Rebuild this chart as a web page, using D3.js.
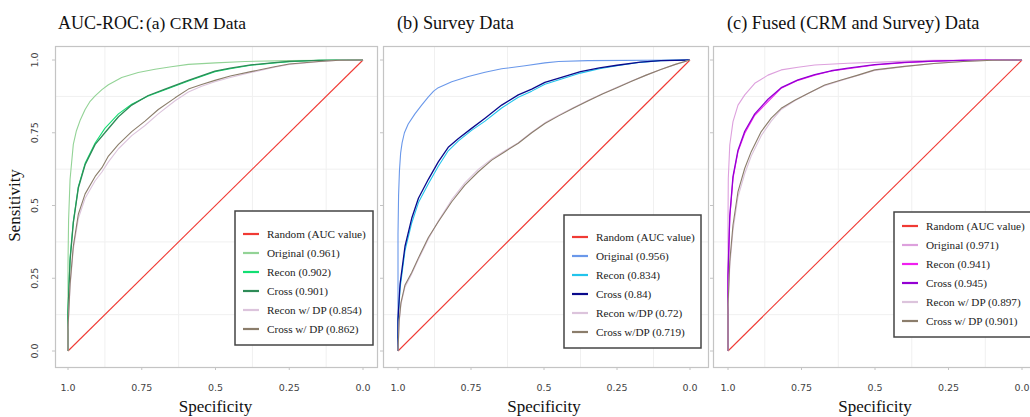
<!DOCTYPE html>
<html><head><meta charset="utf-8">
<script src="https://cdn.jsdelivr.net/npm/d3@7"></script>
<style>body{margin:0;background:#fff}</style>
</head><body>
<svg id="chart" width="1030" height="417"></svg>
<script>
// ROC curves as [specificity, sensitivity] pairs
const randomLine = [[1, 0], [0, 1]];

const crmOriginal = [[1,0],[1,0.30],[0.998,0.45],[0.993,0.59],[0.982,0.71],[0.972,0.755],[0.958,0.795],[0.942,0.83],[0.925,0.858],[0.908,0.877],[0.885,0.898],[0.863,0.915],[0.818,0.94],[0.762,0.957],[0.705,0.968],[0.65,0.977],[0.592,0.985],[0.50,0.99],[0.40,0.995],[0.25,0.998],[0,1]];
const crmRecon = [[1,0],[1,0.14],[0.993,0.32],[0.982,0.445],[0.965,0.565],[0.942,0.645],[0.908,0.715],[0.875,0.765],[0.829,0.815],[0.784,0.848],[0.728,0.876],[0.671,0.898],[0.592,0.928],[0.502,0.96],[0.45,0.97],[0.38,0.982],[0.30,0.99],[0.25,0.994],[0.15,0.999],[0,1]];
const crmCross = [[1,0],[1,0.13],[0.993,0.31],[0.982,0.44],[0.965,0.56],[0.942,0.64],[0.908,0.71],[0.875,0.75],[0.829,0.805],[0.784,0.845],[0.728,0.878],[0.671,0.90],[0.592,0.93],[0.502,0.962],[0.45,0.972],[0.38,0.983],[0.30,0.991],[0.25,0.995],[0.15,0.999],[0,1]];
const crmReconDP = [[1,0],[1,0.07],[0.993,0.22],[0.982,0.35],[0.965,0.455],[0.942,0.525],[0.908,0.585],[0.885,0.615],[0.863,0.65],[0.829,0.695],[0.784,0.74],[0.739,0.775],[0.694,0.815],[0.637,0.86],[0.592,0.89],[0.547,0.91],[0.502,0.925],[0.45,0.94],[0.38,0.957],[0.30,0.975],[0.25,0.985],[0.15,0.994],[0.08,0.999],[0,1]];
const crmCrossDP = [[1,0],[1,0.08],[0.993,0.23],[0.982,0.36],[0.965,0.47],[0.942,0.54],[0.908,0.60],[0.885,0.63],[0.863,0.67],[0.829,0.71],[0.784,0.754],[0.739,0.79],[0.694,0.83],[0.637,0.87],[0.592,0.90],[0.547,0.916],[0.502,0.93],[0.45,0.945],[0.38,0.96],[0.30,0.977],[0.25,0.986],[0.15,0.995],[0.08,0.999],[0,1]];

const surveyOriginal = [[1,0],[1,0.40],[0.998,0.535],[0.995,0.62],[0.991,0.68],[0.986,0.715],[0.978,0.75],[0.965,0.78],[0.942,0.815],[0.919,0.845],[0.896,0.873],[0.878,0.893],[0.862,0.905],[0.816,0.925],[0.759,0.943],[0.702,0.958],[0.645,0.97],[0.565,0.98],[0.497,0.99],[0.45,0.995],[0.35,0.998],[0,1]];
const surveyRecon = [[1,0],[1,0.10],[0.993,0.215],[0.976,0.345],[0.953,0.44],[0.930,0.51],[0.896,0.575],[0.862,0.635],[0.828,0.688],[0.793,0.722],[0.748,0.758],[0.702,0.79],[0.645,0.835],[0.588,0.872],[0.542,0.893],[0.497,0.917],[0.44,0.935],[0.375,0.955],[0.31,0.97],[0.25,0.98],[0.17,0.992],[0.1,0.998],[0,1]];
const surveyCross = [[1,0],[1,0.11],[0.993,0.23],[0.976,0.36],[0.953,0.456],[0.930,0.525],[0.896,0.59],[0.862,0.65],[0.828,0.70],[0.793,0.73],[0.748,0.765],[0.702,0.80],[0.645,0.845],[0.588,0.88],[0.542,0.90],[0.497,0.923],[0.44,0.94],[0.375,0.96],[0.31,0.973],[0.25,0.982],[0.17,0.993],[0.1,0.998],[0,1]];
const surveyReconDP = [[1,0],[0.996,0.10],[0.990,0.16],[0.976,0.22],[0.953,0.265],[0.930,0.315],[0.896,0.385],[0.862,0.447],[0.816,0.52],[0.771,0.578],[0.725,0.624],[0.679,0.66],[0.634,0.688],[0.588,0.716],[0.542,0.752],[0.497,0.784],[0.45,0.81],[0.40,0.836],[0.35,0.861],[0.30,0.884],[0.25,0.906],[0.20,0.928],[0.15,0.948],[0.10,0.967],[0.05,0.985],[0,1]];
const surveyCrossDP = [[1,0],[0.996,0.105],[0.990,0.165],[0.976,0.227],[0.953,0.27],[0.930,0.32],[0.896,0.39],[0.862,0.444],[0.816,0.513],[0.771,0.57],[0.725,0.616],[0.679,0.656],[0.634,0.685],[0.588,0.714],[0.542,0.75],[0.497,0.782],[0.45,0.808],[0.40,0.834],[0.35,0.859],[0.30,0.883],[0.25,0.905],[0.20,0.927],[0.15,0.948],[0.10,0.967],[0.05,0.985],[0,1]];

const fusedOriginal = [[1,0],[1,0.45],[0.999,0.593],[0.994,0.708],[0.983,0.788],[0.966,0.845],[0.943,0.88],[0.909,0.92],[0.864,0.948],[0.819,0.966],[0.762,0.975],[0.705,0.983],[0.592,0.989],[0.501,0.992],[0.4,0.996],[0.3,0.999],[0,1]];
const fusedRecon = [[1,0],[1,0.25],[0.994,0.456],[0.983,0.593],[0.966,0.685],[0.943,0.748],[0.909,0.81],[0.864,0.857],[0.819,0.903],[0.762,0.93],[0.705,0.948],[0.649,0.962],[0.592,0.97],[0.501,0.983],[0.4,0.991],[0.3,0.996],[0.2,0.999],[0,1]];
const fusedCross = [[1,0],[1,0.26],[0.994,0.465],[0.983,0.60],[0.966,0.69],[0.943,0.755],[0.909,0.815],[0.864,0.865],[0.819,0.905],[0.762,0.932],[0.705,0.95],[0.649,0.963],[0.592,0.972],[0.501,0.984],[0.4,0.992],[0.3,0.996],[0.2,0.999],[0,1]];
const fusedReconDP = [[1,0],[1,0.14],[0.994,0.29],[0.983,0.415],[0.966,0.53],[0.943,0.61],[0.921,0.67],[0.887,0.74],[0.853,0.79],[0.819,0.83],[0.773,0.86],[0.728,0.885],[0.671,0.912],[0.615,0.93],[0.558,0.947],[0.501,0.964],[0.4,0.977],[0.3,0.988],[0.2,0.995],[0.1,0.999],[0,1]];
const fusedCrossDP = [[1,0],[1,0.158],[0.994,0.307],[0.983,0.433],[0.966,0.548],[0.943,0.628],[0.921,0.685],[0.887,0.754],[0.853,0.80],[0.819,0.834],[0.773,0.862],[0.728,0.885],[0.671,0.914],[0.615,0.931],[0.558,0.948],[0.501,0.966],[0.4,0.978],[0.3,0.988],[0.2,0.995],[0.1,0.999],[0,1]];

// legend labels (AUC values)
const crmLabels = ["Random (AUC value)", "Original (0.961)", "Recon (0.902)", "Cross (0.901)", "Recon w/ DP (0.854)", "Cross w/ DP (0.862)"];
const surveyLabels = ["Random (AUC value)", "Original (0.956)", "Recon (0.834)", "Cross (0.84)", "Recon w/DP (0.72)", "Cross w/DP (0.719)"];
const fusedLabels = ["Random (AUC value)", "Original (0.971)", "Recon (0.941)", "Cross (0.945)", "Recon w/ DP (0.897)", "Cross w/ DP (0.901)"];

const crmColors = ["#f03a34", "#93d396", "#12df73", "#2e8b57", "#dcc4dc", "#8b7d6b"];
const surveyColors = ["#f03a34", "#6a98ea", "#22c4ec", "#0a0a8c", "#dcc4dc", "#8b7d6b"];
const fusedColors = ["#f03a34", "#dda0dd", "#f020f0", "#9400d3", "#dcc4dc", "#8b7d6b"];

const tickValues = [1.0, 0.75, 0.5, 0.25, 0.0];
const tickLabels = ["1.0", "0.75", "0.5", "0.25", "0.0"];
const gridValues = [0.125, 0.375, 0.625, 0.875];

const titles = ["(a) CRM Data", "(b) Survey Data", "(c) Fused (CRM and Survey) Data"];

const panels = [
  { title: titles[0], curves: [randomLine, crmOriginal, crmRecon, crmCross, crmReconDP, crmCrossDP], labels: crmLabels, colors: crmColors,
    px: [68, 363], frame: [55, 377], legend: { x: 235, y: 211, w: 138, h: 134 }, yLabels: true },
  { title: titles[1], curves: [randomLine, surveyOriginal, surveyRecon, surveyCross, surveyReconDP, surveyCrossDP], labels: surveyLabels, colors: surveyColors,
    px: [398, 690], frame: [383, 708], legend: { x: 564, y: 215, w: 137, h: 133 }, yLabels: false },
  { title: titles[2], curves: [randomLine, fusedOriginal, fusedRecon, fusedCross, fusedReconDP, fusedCrossDP], labels: fusedLabels, colors: fusedColors,
    px: [728, 1022], frame: [713, 1040], legend: { x: 894, y: 212, w: 138, h: 125 }, yLabels: false }
];

const svg = d3.select("#chart");
const yTop = 60, yBot = 351, frameTop = 46, frameBot = 367;
const serif = "'Times New Roman', 'Liberation Serif', Times, serif";
const sans = "'DejaVu Sans', Verdana, sans-serif";

const y = d3.scaleLinear().domain([0, 1]).range([yBot, yTop]);

panels.forEach((p, i) => {
  const x = d3.scaleLinear().domain([1, 0]).range(p.px);
  const g = svg.append("g");
  const [fx0, fx1] = p.frame;

  // light grid lines between major ticks
  g.selectAll(".gx").data(gridValues).join("line")
    .attr("x1", d => x(d)).attr("x2", d => x(d))
    .attr("y1", frameTop).attr("y2", frameBot)
    .attr("stroke", "#f0f0f0").attr("stroke-width", 1);
  g.selectAll(".gy").data(gridValues).join("line")
    .attr("x1", fx0).attr("x2", fx1)
    .attr("y1", d => y(d)).attr("y2", d => y(d))
    .attr("stroke", "#f0f0f0").attr("stroke-width", 1);

  // panel frame
  g.append("rect").attr("x", fx0 + 0.5).attr("y", frameTop + 0.5)
    .attr("width", fx1 - fx0).attr("height", frameBot - frameTop)
    .attr("fill", "none").attr("stroke", "#c4c4c4").attr("stroke-width", 1.2);

  // y ticks
  g.selectAll(".yt").data(tickValues).join("line")
    .attr("x1", fx0 - 3).attr("x2", fx0)
    .attr("y1", d => y(d)).attr("y2", d => y(d))
    .attr("stroke", "#c4c4c4");
  // x ticks
  g.selectAll(".xt").data(tickValues).join("line")
    .attr("x1", d => x(d)).attr("x2", d => x(d))
    .attr("y1", frameBot).attr("y2", frameBot + 3)
    .attr("stroke", "#c4c4c4");

  // x tick labels
  g.selectAll(".xl").data(tickValues).join("text")
    .attr("x", d => x(d)).attr("y", 391)
    .attr("text-anchor", "middle")
    .style("font-family", sans).style("font-size", "9.5px").attr("fill", "#444")
    .text((d, k) => tickLabels[k]);

  if (p.yLabels) {
    g.selectAll(".yl").data(tickValues).join("text")
      .attr("transform", d => `translate(38,${y(d)}) rotate(-90)`)
      .attr("text-anchor", "middle")
      .style("font-family", sans).style("font-size", "9.5px").attr("fill", "#444")
      .text((d, k) => tickLabels[k]);
  }

  // curves
  const line = d3.line().x(d => x(d[0])).y(d => y(d[1]));
  p.curves.forEach((c, k) => {
    g.append("path").datum(c)
      .attr("d", line)
      .attr("fill", "none")
      .attr("stroke", p.colors[k])
      .attr("stroke-width", k === 3 ? 1.3 : 1.1)
      .attr("stroke-linejoin", "round");
  });

  // legend
  const L = p.legend;
  const lg = g.append("g");
  lg.append("rect").attr("x", L.x).attr("y", L.y).attr("width", L.w).attr("height", L.h)
    .attr("fill", "#fff").attr("stroke", "#444").attr("stroke-width", 1.5);
  const rowTop = L.y + L.h - 16 - 5 * 19;
  p.labels.forEach((lab, k) => {
    const ry = rowTop + k * 19;
    lg.append("line").attr("x1", L.x + 8).attr("x2", L.x + 24)
      .attr("y1", ry).attr("y2", ry)
      .attr("stroke", p.colors[k]).attr("stroke-width", 2.2);
    lg.append("text").attr("x", L.x + 32).attr("y", ry + 4)
      .style("font-family", serif).style("font-size", "11.2px").attr("fill", "#222")
      .text(lab);
  });

  // titles and axis label
  const tx = p.px[0] - 1;
  if (i === 0) {
    svg.append("text").attr("x", 58).attr("y", 29)
      .style("font-family", serif).style("font-size", "18px").attr("fill", "#111")
      .text("AUC-ROC:");
    svg.append("text").attr("x", 146).attr("y", 29)
      .style("font-family", serif).style("font-size", "17.5px").attr("fill", "#111")
      .text(p.title);
  } else {
    svg.append("text").attr("x", tx).attr("y", 29)
      .style("font-family", serif).style("font-size", "18.3px").attr("fill", "#111")
      .text(p.title);
  }
  svg.append("text").attr("x", (p.px[0] + p.px[1]) / 2).attr("y", 412)
    .attr("text-anchor", "middle")
    .style("font-family", serif).style("font-size", "17px").attr("fill", "#111")
    .text("Specificity");
});

svg.append("text")
  .attr("transform", `translate(20,${(yTop + yBot) / 2}) rotate(-90)`)
  .attr("text-anchor", "middle")
  .style("font-family", serif).style("font-size", "17px").attr("fill", "#111")
  .text("Sensitivity");
</script>
</body></html>
